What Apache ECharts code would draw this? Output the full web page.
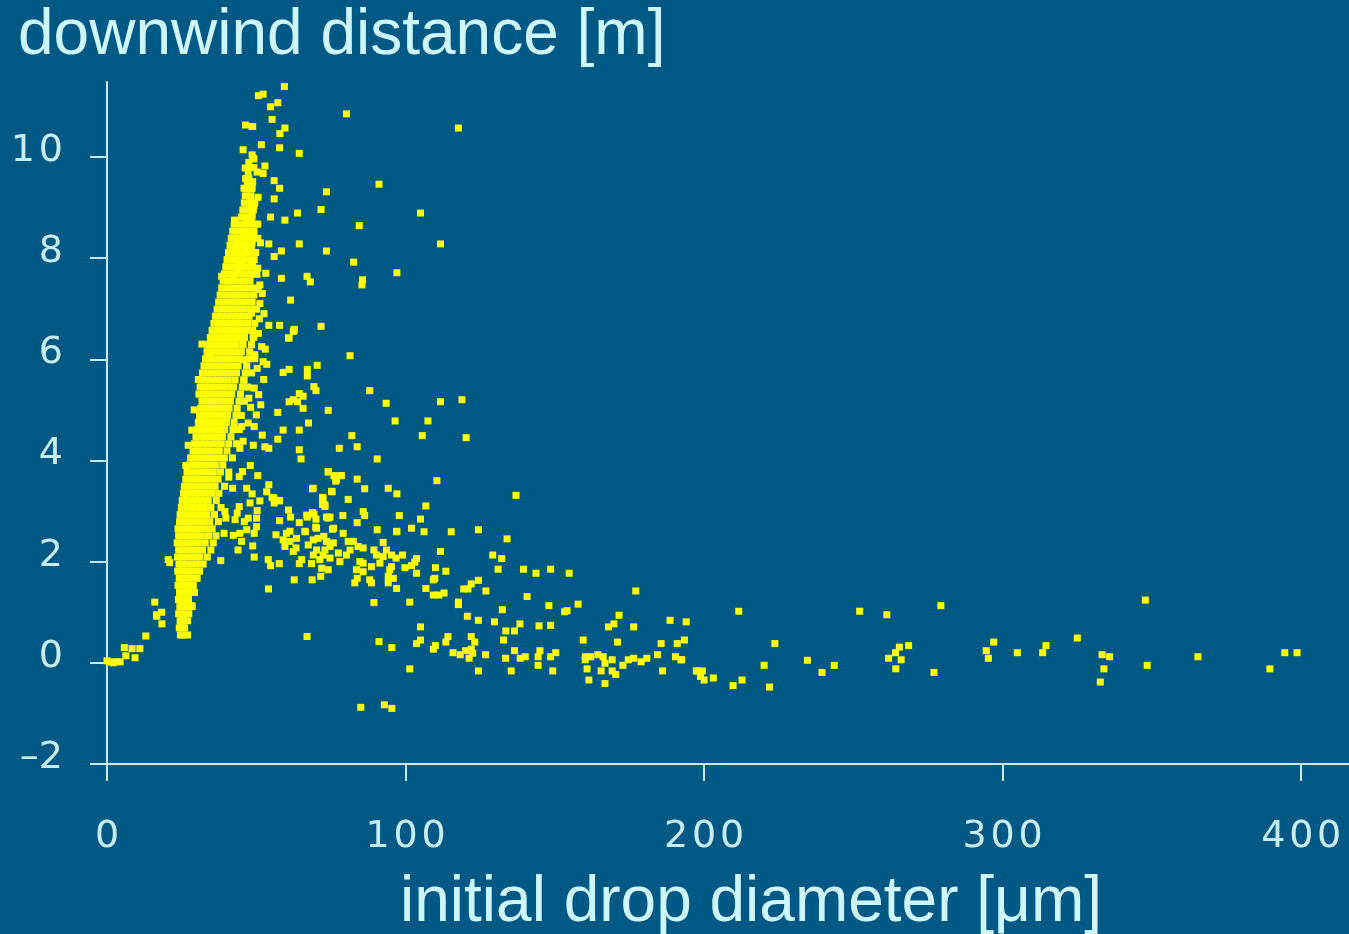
<!DOCTYPE html>
<html>
<head>
<meta charset="utf-8">
<script src="https://cdn.jsdelivr.net/npm/echarts@6/dist/echarts.min.js"></script>
<style>
html,body{margin:0;padding:0;background:#005884;}
#chart{width:1349px;height:934px;}
</style>
</head>
<body>
<div id="chart"></div>
<script>
// ---- data ----
var yTitle = 'downwind distance [m]';
var xTitle = 'initial drop diameter [\u03bcm]';
var xTicks = [0, 100, 200, 300, 400];
var yTicks = [-2, 0, 2, 4, 6, 8, 10];

var nearOrigin = [[0,0.04],[0.8,0.02],[2,0],[3,0.02],[4.4,0.02],[5.8,0.3],[6.3,0.14],[8.4,0.28],[9.4,0.1],[11,0.28],[13,0.53],[16,1.2],[16.6,0.95],[16.7,0.92],[18.3,1.0],[18.4,0.77],[20.5,2.04],[21,1.98],[25,0.75],[25,0.89],[27,0.55],[28.4,1.13]];

// dense core: [y, [x values]]
var coreRows = [
[0.55,[24.6,25.4]],
[0.69,[24.2,26.0]],
[0.83,[24.5,25.4,27.0]],
[0.97,[24.0,25.8,27.4]],
[1.11,[24.4,25.3,26.9,28.5]],
[1.25,[23.9,25.6,27.3]],
[1.39,[24.3,25.2,26.7,28.4,29.3]],
[1.53,[23.8,25.5,27.0,28.9]],
[1.67,[24.2,25.1,26.4,28.0,30.2]],
[1.81,[23.7,25.6,27.3,29.0,31.0]],
[1.95,[24.1,25.0,26.6,28.3,30.0,32.2]],
[2.09,[23.6,25.4,27.1,29.3,31.1,33.6]],
[2.23,[24.0,25.0,26.5,28.2,30.2,32.0,34.8]],
[2.37,[23.5,25.3,27.0,28.9,30.6,32.9,35.6]],
[2.51,[24.0,25.1,26.6,28.4,30.0,31.6,34.0,36.5]],
[2.65,[23.8,25.6,27.4,29.1,31.1,33.0,35.2]],
[2.79,[24.3,25.3,26.8,28.6,30.4,32.2,34.4,37.3]],
[2.93,[24.5,26.1,27.9,29.7,31.5,33.5,36.0]],
[3.07,[24.9,25.8,27.3,29.0,30.9,32.6,34.8,38.2]],
[3.21,[25.2,26.7,28.4,30.2,32.0,33.9,36.6]],
[3.35,[25.6,26.4,28.0,29.6,31.4,33.2,35.2,37.5]],
[3.49,[25.9,27.3,29.0,30.8,32.7,34.5,36.2,39.4]],
[3.63,[26.4,27.8,29.5,31.3,33.0,35.0,37.2]],
[3.77,[26.8,28.4,30.1,31.9,33.8,35.6,38.0,40.8]],
[3.91,[27.4,29.0,30.7,32.4,34.3,36.3,38.8]],
[4.05,[28.0,29.6,31.3,33.1,35.0,37.0,39.3,42.0]],
[4.19,[28.8,30.3,32.0,33.7,35.5,37.6,40.2]],
[4.33,[29.3,30.8,32.5,34.3,36.2,38.3,40.8,43.4]],
[4.47,[29.8,31.4,33.0,34.9,36.8,38.7,41.5]],
[4.61,[30.2,31.8,33.6,35.3,37.3,39.4,42.2,44.3]],
[4.75,[30.6,32.3,34.1,35.9,37.7,40.0,42.6]],
[4.89,[31.0,32.6,34.4,36.3,38.3,40.4,43.2,45.0]],
[5.03,[31.4,33.1,34.9,36.7,38.7,40.9,43.6]],
[5.17,[31.8,33.5,35.3,37.2,39.2,41.3,44.2,46.0]],
[5.31,[30.8,32.3,34.0,35.8,37.7,39.7,41.8,44.7]],
[5.45,[31.2,32.7,34.4,36.3,38.2,40.2,42.4,45.3,47.1]],
[5.59,[31.6,33.2,34.9,36.8,38.7,40.6,42.9,45.8]],
[5.73,[32.0,33.7,35.5,37.3,39.2,41.2,43.4,46.3,48.4]],
[5.87,[32.5,34.2,36.0,37.8,39.7,41.7,43.9,46.8]],
[6.01,[33.0,34.8,36.6,38.4,40.3,42.2,44.4,47.4,49.5]],
[6.15,[33.5,35.3,37.1,38.9,40.8,42.8,45.0,47.8]],
[6.29,[34.0,35.8,37.6,39.5,41.3,43.3,45.6,48.4]],
[6.43,[34.6,36.4,38.2,40.0,41.9,43.9,46.1,49.0]],
[6.57,[35.2,37.0,38.8,40.6,42.5,44.4,46.6,48.8]],
[6.71,[35.8,37.6,39.4,41.2,43.0,44.9,47.1,49.5]],
[6.85,[36.3,38.1,39.9,41.7,43.5,45.5,47.6]],
[6.99,[36.9,38.7,40.4,42.2,44.1,46.0,48.2,50.1]],
[7.13,[37.4,39.2,41.0,42.8,44.6,46.5,48.6]],
[7.27,[37.9,39.7,41.5,43.3,45.1,47.0,49.2]],
[7.41,[38.4,40.2,42.0,43.8,45.6,47.5,49.6]],
[7.55,[38.9,40.7,42.5,44.3,46.1,47.9]],
[7.69,[39.3,41.1,42.9,44.7,46.5,48.4,50.2]],
[7.83,[39.8,41.6,43.4,45.2,47.0,48.8]],
[7.97,[40.2,42.0,43.8,45.6,47.4,49.3]],
[8.11,[40.7,42.5,44.3,46.1,47.9,49.8]],
[8.25,[41.2,43.0,44.8,46.6,48.4]],
[8.39,[41.6,43.4,45.2,47.0,48.8,50.5]],
[8.53,[42.1,43.9,45.7,47.5,49.2]],
[8.67,[42.6,44.4,46.2,48.0,49.8]],
[8.81,[45.0,46.8,48.5]],
[8.95,[45.5,47.3,49.0]],
[9.09,[46.0,47.8,49.5]],
[9.23,[46.3,48.2]],
[9.37,[46.7,48.5]],
[9.51,[47.0,48.8]],
[9.65,[47.3]],
[9.79,[47.6,49.2]]
];

var coreEdge = [[50.5,7.8],[52,7.3],[51,6.8],[53,6.2],[52.5,5.6],[51.5,5.1],[50,4.9],[49,4.3],[48,3.9],[50.5,3.7],[52,4.5],[53.5,5.9],[50.8,5.3],[52.6,6.9],[51.4,8.3],[50.6,9.2],[53.2,7.7],[29.2,5.0],[28.4,4.6],[30.6,5.6],[31.8,6.3],[27.2,4.3],[26.4,3.9]];

var upperScatter = [[59.4,11.39],[50.7,11.21],[52.3,11.24],[54.8,10.99],[57.2,11.07],[55.3,10.74],[80.2,10.85],[117.7,10.57],[48.8,10.6],[46.4,10.63],[48.6,10.6],[57.9,10.46],[59.6,10.57],[51.7,10.24],[45.6,10.14],[57.8,10.18],[64.4,10.07],[49,9.97],[48.6,10.04],[49.2,9.96],[47.5,9.89],[46.3,9.78],[52.9,9.82],[50.3,9.7],[52.3,9.67],[46.4,9.57],[47.5,9.57],[56,9.53],[57.8,9.38],[45.9,9.38],[48.6,9.41],[91.1,9.46],[73.5,9.31],[48.1,9.15],[56,9.17],[47.5,8.98],[49.2,9.03],[63.8,8.89],[71.7,8.96],[105,8.89],[46.8,8.79],[48.6,8.85],[54.8,8.81],[59.6,8.75],[48.1,8.69],[50.5,8.67],[42.7,8.75],[84.5,8.64],[111.7,8.28],[54.2,8.28],[64.4,8.28],[48.1,8.49],[49.2,8.49],[45.9,8.46],[44,8.36],[47.5,8.33],[48.6,8.31],[58.4,8.14],[56,8.03],[73.5,8.14],[43.4,8.16],[46.8,8.15],[45.2,8.1],[43.6,7.93],[45.6,7.9],[48.6,7.95],[82.6,7.92],[44,7.77],[97.1,7.71],[38.4,7.64],[42.3,7.64],[47.9,7.68],[50.1,7.68],[67,7.64],[68.1,7.53],[85.6,7.57],[85.4,7.47],[58.4,7.6],[50.6,7.38],[51.2,7.47],[51.2,7.1],[61.5,7.17],[48.4,6.91],[54.2,6.67],[57.8,6.67],[62.7,6.59],[71.7,6.65],[62.6,6.57],[60.8,6.42],[50.7,6.51],[49,6.48],[81.4,6.07],[61,6.42],[62.4,6.55],[51.8,6.25],[52.3,5.95],[49.2,6.45],[49.5,6.09],[50.3,5.82],[45.6,5.99],[34.3,6.02],[70.4,5.88],[67.1,5.8],[67.1,5.67],[59,5.74],[61,5.8],[45.9,5.59],[69.3,5.46],[70,5.38],[49.3,5.43],[88,5.38],[93.5,5.13],[111.7,5.16],[118.9,5.2],[64.4,5.32],[65.7,5.27],[61,5.16],[62.4,5.2],[63.8,5.16],[47.5,5.23],[48.1,5.05],[65.7,5.03],[57.2,4.95],[74.1,4.99],[96.5,4.78],[107.5,4.78],[67.5,4.74],[105.6,4.49],[120.3,4.45],[82,4.49],[83.8,4.27],[59,4.6],[64.4,4.6],[57.2,4.42],[49.3,4.67],[47.3,4.74],[45.1,4.67],[45.6,4.38],[44.5,4.24],[52.9,4.27],[54.2,4.24],[64.4,4.21],[77.8,4.24],[65,4.03],[90.5,4.03]];

var midScatter = [[74.1,3.77],[76,3.7],[78.3,3.7],[76.6,3.59],[83.8,3.63],[86.3,3.44],[94.2,3.45],[97.1,3.34],[110.5,3.6],[137,3.31],[75.4,3.38],[68.8,3.44],[72.2,3.27],[54.2,3.52],[53.5,3.38],[55.3,3.27],[57.8,3.2],[56,3.16],[80.8,3.23],[106.8,3.1],[72.2,3.13],[73,3.09],[60.8,3.02],[61.5,2.88],[57.8,2.81],[64.4,2.77],[67.1,2.88],[69.3,2.94],[70,2.84],[73.5,2.88],[74.7,2.88],[79,2.91],[85.8,2.99],[86.3,2.91],[83.8,2.77],[97.9,2.91],[105,2.84],[90.5,2.63],[97.1,2.59],[102,2.66],[106.2,2.59],[115.3,2.59],[124.4,2.63],[129.2,2.13],[111.7,2.2],[75.9,2.66],[70.2,2.66],[66.4,2.59],[134,2.45],[132.2,2.06],[40.8,3.67],[44.3,3.68],[45.4,3.78],[42.1,3.45],[46.8,3.45],[48.6,3.34],[55.9,3.26],[57.7,3.21],[51.2,3.2],[47.9,3.16],[44.3,3.09],[50.3,3.01],[50.1,2.86],[47.3,2.86],[46,2.79],[42.9,2.83],[43.6,2.96],[39.5,2.99],[39.8,2.86],[50.1,2.69],[46.8,2.63],[44.5,2.56],[42.3,2.52],[39.2,2.56],[49.3,2.56],[45.1,2.4],[43.9,2.23],[48.8,2.31],[49.3,2.09],[54,2.04],[54.8,1.92],[57.7,1.96],[54.1,1.46],[56.6,2.53],[59,2.43],[60.1,2.56],[59.6,2.3],[61.3,2.4],[63.5,2.46],[61.3,2.6],[63.3,2.27],[62.4,2.2],[66.9,2.92],[68.8,2.97],[69.9,2.68],[66.3,2.6],[69.1,2.43],[67.4,2.33],[65.2,2.04],[64.4,1.96],[69.1,2.13],[70.2,2.23],[70.7,2.46],[72.6,2.5],[73.5,2.4],[74.7,2.3],[73,2.23],[72.4,2.13],[71.3,2.04],[68.5,1.96],[71.9,1.87],[74.1,1.84],[74.7,2.07],[77.5,2.17],[75.8,2.37],[75.5,2.64],[74.1,2.86],[73,3.12],[72.4,3.25],[75.2,3.39],[69.1,3.45],[74.1,3.78],[76.9,3.62],[78.5,3.7],[79.1,2.56],[80.8,2.4],[82.5,2.4],[84.1,2.3],[85.8,2.27],[89.4,2.23],[90.3,2.13],[92.5,2.38],[93.6,2.23],[97,2.6],[96.8,2.07],[95.3,2.13],[92.5,2.1],[91.4,1.97],[88.6,1.9],[85.8,1.97],[85.8,1.8],[83.6,1.84],[83,1.58],[83.8,1.67],[88,1.64],[88.6,1.58],[94.2,1.71],[94.2,1.58],[95.9,1.67],[97,1.47],[94.7,1.84],[95.3,1.9],[84.7,2.0],[81.4,2.23],[80.2,2.13],[78,2.0],[62.7,1.64],[68.7,1.64],[71.6,1.71],[38.1,2.02],[89.4,1.19]];

var tailScatter = [[99,2.13],[103.7,2.06],[103.1,1.99],[99.8,1.88],[102,1.92],[103.7,1.77],[110,1.88],[113.5,1.81],[131,1.85],[139.5,1.85],[143.7,1.77],[148.6,1.85],[154.8,1.77],[109.8,1.67],[109.3,1.64],[106.8,1.47],[109.3,1.34],[111.2,1.34],[112.9,1.38],[119.5,1.46],[122,1.56],[124.4,1.63],[120.9,1.46],[126.9,1.42],[140.7,1.31],[101.4,1.2],[117.7,1.2],[117.7,1.15],[132.4,1.05],[148,1.13],[157.8,1.16],[153.3,1.01],[154.1,1.03],[177.1,1.42],[120.7,0.92],[124.4,0.84],[129.8,0.81],[138.3,0.77],[133.6,0.63],[136.5,0.63],[144.7,0.73],[148.6,0.74],[105,0.71],[171.5,0.94],[169.8,0.77],[168,0.71],[176.4,0.71],[188.6,0.84],[194,0.81],[159.5,0.45],[171,0.41],[185.6,0.38],[191,0.38],[193.4,0.45],[105,0.45],[103.7,0.38],[114.2,0.52],[113.5,0.41],[122,0.52],[123.2,0.41],[109.3,0.27],[110,0.34],[115.9,0.2],[118.3,0.16],[120.1,0.24],[122,0.27],[122.5,0.19],[121.3,0.09],[126.8,0.16],[132.8,0.45],[136.5,0.24],[133.5,0.09],[138.4,0.09],[140.1,0.12],[144.4,0.12],[145,0.24],[148.6,0.12],[150.3,0.2],[144.4,-0.05],[149.3,-0.16],[135.4,-0.16],[124.4,-0.16],[101.4,-0.12],[160.2,0.12],[160.2,0.06],[162,0.12],[164.4,0.16],[166.2,0.12],[166.8,-0.01],[169.2,0.06],[160.8,-0.12],[161.4,-0.34],[165.5,-0.16],[169.2,-0.16],[170.4,-0.23],[166.8,-0.41],[172.8,-0.05],[174.6,0.06],[176.4,0.09],[178.9,0.02],[180.8,0.09],[184.4,0.16],[190.4,0.12],[192.2,0.06],[186.1,-0.16],[197.4,-0.16],[192.5,0.06],[67,0.52],[91.1,0.42],[95.4,0.3],[85,-0.88],[92.9,-0.83],[95.4,-0.9]];

var farScatter = [[211.6,1.02],[223.7,0.38],[197.6,-0.16],[199.4,-0.16],[198.8,-0.27],[200,-0.34],[203.1,-0.3],[209.7,-0.45],[212.7,-0.34],[220.1,-0.05],[221.9,-0.48],[234.6,0.05],[239.5,-0.19],[243.6,-0.05],[252.1,1.02],[261.2,0.95],[279.3,1.13],[268.5,0.34],[265.4,0.31],[264.1,0.2],[261.8,0.09],[266,0.06],[264.2,-0.12],[277,-0.19],[297,0.41],[294.5,0.24],[295.2,0.09],[304.9,0.2],[314.5,0.34],[313.4,0.2],[325,0.49],[347.8,1.24],[333.3,0.16],[335.8,0.12],[333.9,-0.12],[332.7,-0.38],[348.4,-0.05],[365.4,0.12],[389.5,-0.12],[394.5,0.2],[398.6,0.2]];

// ---- build series data ----
var points = [];
nearOrigin.forEach(function(p){ points.push(p); });
coreRows.forEach(function(r){ r[1].forEach(function(x){ points.push([x, r[0]]); }); });
[coreEdge, upperScatter, midScatter, tailScatter, farScatter].forEach(function(a){ a.forEach(function(p){ points.push(p); }); });

var axisColor = '#c6eaf0';
var labelColor = '#c8eef5';
var titleColor = '#cdf6fd';
function spaced(v){
  var s = String(v);
  if (s.charAt(0) === '-') return '\u2013' + s.slice(1);
  return s.split('').join('\u200a');
}

var chart = echarts.init(document.getElementById('chart'), null, {renderer:'canvas'});
chart.setOption({
  backgroundColor: '#005884',
  animation: false,
  grid: {left:107, right:0, top:82, bottom:170, containLabel:false},
  xAxis: {
    type:'value', min:0, max:416,
    axisLine:{show:true, onZero:false, lineStyle:{color:axisColor, width:2}},
    axisTick:{show:true, length:17, customValues:xTicks, lineStyle:{color:axisColor, width:2}},
    axisLabel:{customValues:xTicks, color:labelColor, fontFamily:'DejaVu Sans', fontSize:38, margin:54, formatter:spaced},
    splitLine:{show:false}
  },
  yAxis: {
    type:'value', min:-2, max:11.48,
    axisLine:{show:true, onZero:false, lineStyle:{color:axisColor, width:2}},
    axisTick:{show:true, length:17, customValues:yTicks, lineStyle:{color:axisColor, width:2}},
    axisLabel:{customValues:yTicks, color:labelColor, fontFamily:'DejaVu Sans', fontSize:38, margin:44, verticalAlign:'bottom', lineHeight:12, formatter:spaced},
    splitLine:{show:false}
  },
  graphic: [
    {type:'text', left:18, top:4, style:{text:yTitle, fill:titleColor, font:'64px "Liberation Sans", Arial, sans-serif'}},
    {type:'text', left:400, top:871, style:{text:xTitle, fill:titleColor, font:'64px "Liberation Sans", Arial, sans-serif'}}
  ],
  series: [{
    type:'scatter',
    data: points,
    symbol:'rect',
    symbolSize:7,
    itemStyle:{color:'#ffff00', opacity:1},
    emphasis:{disabled:true},
    large:false
  }]
});
</script>
</body>
</html>
